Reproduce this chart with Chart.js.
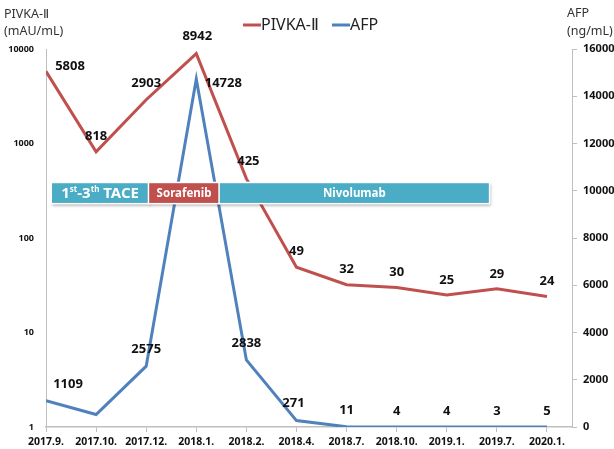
<!DOCTYPE html>
<html>
<head>
<meta charset="utf-8">
<script src="https://cdn.jsdelivr.net/npm/chart.js@4/dist/chart.umd.min.js"></script>
<style>
  html, body { margin: 0; padding: 0; background: #fff; }
  #wrap { width: 614px; height: 449px; }
</style>
</head>
<body>
<div id="wrap"><canvas id="c" width="614" height="449"></canvas></div>
<script>
// data
const dates = ['2017.9.', '2017.10.', '2017.12.', '2018.1.', '2018.2.', '2018.4.', '2018.7.', '2018.10.', '2019.1.', '2019.7.', '2020.1.'];
const pivka = [5808, 818, 2903, 8942, 425, 49, 32, 30, 25, 29, 24];
const afp = [1109, 530, 2575, 14728, 2838, 271, 11, 4, 4, 3, 5];
// which points carry a value label (AFP at 2017.10. has none)
const afpShown = [true, false, true, true, true, true, true, true, true, true, true];

// treatment periods (x in category units)
const therapies = [
    { name: 'TACE', from: 0.12, to: 2.04, color: '#4bacc6' },
    { name: 'Sorafenib', from: 2.06, to: 3.45, color: '#c0504d' },
    { name: 'Nivolumab', from: 3.47, to: 8.84, color: '#4bacc6' },
];

// label offsets relative to the point (px)
const pivkaOff = [[24, -5], [0, -15], [0, -16], [1, -17], [2, -17], [0, -16], [0, -15], [0, -15], [0, -15], [0, -15], [0, -15]];
const afpOff = [[22, -17], [0, 0], [0, -17], [27, 4], [0, -17], [-3, -17], [0, -16], [0, -16], [0, -16], [0, -16], [0, -16]];

const RED = '#c0504d';
const BLUE = '#4f81bd';
const AXIS = '#bfbfbf';
const FONT = "'Noto Sans', 'DejaVu Sans', sans-serif";

function toXY(arr) {
    let out = [];
    for (let i = 0; i < arr.length; i++) {
        out.push({ x: i, y: arr[i] });
    }
    return out;
}

const extras = {
    id: 'extras',
    afterDatasetsDraw(chart) {
        const ctx = chart.ctx;
        const xs = chart.scales.x;
        const ys = chart.scales.y;

        // treatment bar
        const top = ys.getPixelForValue(380);
        const bot = ys.getPixelForValue(235);
        therapies.forEach(t => {
            const l = xs.getPixelForValue(t.from);
            const r = xs.getPixelForValue(t.to);
            ctx.save();
            ctx.shadowColor = 'rgba(0,0,0,0.35)';
            ctx.shadowBlur = 3;
            ctx.shadowOffsetX = 1;
            ctx.shadowOffsetY = 2;
            ctx.fillStyle = '#ffffff';
            ctx.fillRect(l - 1.5, top - 1.5, r - l + 3, bot - top + 3);
            ctx.restore();
            ctx.fillStyle = t.color;
            ctx.fillRect(l, top, r - l, bot - top);

            ctx.fillStyle = '#ffffff';
            ctx.textBaseline = 'middle';
            const cx = (l + r) / 2;
            const cy = (top + bot) / 2 + 0.5;
            if (t.name === 'TACE') {
                const parts = [
                    ['1', `bold 15px ${FONT}`, 0],
                    ['st', `bold 8px ${FONT}`, -4],
                    ['-3', `bold 15px ${FONT}`, 0],
                    ['th', `bold 8px ${FONT}`, -4],
                    [' TACE', `bold 15px ${FONT}`, 0],
                ];
                let w = 0;
                parts.forEach(p => { ctx.font = p[1]; w += ctx.measureText(p[0]).width; });
                let px = cx - w / 2;
                ctx.textAlign = 'left';
                parts.forEach(p => {
                    ctx.font = p[1];
                    ctx.fillText(p[0], px, cy + p[2]);
                    px += ctx.measureText(p[0]).width;
                });
            } else {
                ctx.font = `bold 11.5px ${FONT}`;
                ctx.textAlign = 'center';
                ctx.fillText(t.name, cx, cy);
            }
        });

        // value labels
        ctx.fillStyle = '#111';
        ctx.font = `bold 13px ${FONT}`;
        ctx.textAlign = 'center';
        ctx.textBaseline = 'middle';
        const m0 = chart.getDatasetMeta(0).data;
        const m1 = chart.getDatasetMeta(1).data;
        for (let i = 0; i < pivka.length; i++) {
            ctx.fillText(String(pivka[i]), m0[i].x + pivkaOff[i][0], m0[i].y + pivkaOff[i][1]);
        }
        for (let i = 0; i < afp.length; i++) {
            if (!afpShown[i]) continue;
            ctx.fillText(String(afp[i]), m1[i].x + afpOff[i][0], m1[i].y + afpOff[i][1]);
        }

        // axis titles
        ctx.fillStyle = '#333';
        ctx.font = `12.5px ${FONT}`;
        ctx.textAlign = 'left';
        ctx.fillText('PIVKA-Ⅱ', 4, 14);
        ctx.fillText('(mAU/mL)', 4, 31);
        ctx.fillText('AFP', 567, 13);
        ctx.fillText('(ng/mL)', 567, 31);

        // legend
        const items = [['PIVKA-Ⅱ', RED, 243], ['AFP', BLUE, 332]];
        ctx.font = `16px ${FONT}`;
        items.forEach(it => {
            ctx.strokeStyle = it[1];
            ctx.lineWidth = 3;
            ctx.beginPath();
            ctx.moveTo(it[2], 25);
            ctx.lineTo(it[2] + 18, 25);
            ctx.stroke();
            ctx.fillStyle = '#222';
            ctx.fillText(it[0], it[2] + 18, 25);
        });
    }
};

new Chart(document.getElementById('c'), {
    type: 'line',
    data: {
        datasets: [
            {
                label: 'PIVKA-Ⅱ',
                data: toXY(pivka),
                borderColor: RED,
                backgroundColor: RED,
                borderWidth: 3,
                pointRadius: 0,
                yAxisID: 'y',
            },
            {
                label: 'AFP',
                data: toXY(afp),
                borderColor: BLUE,
                backgroundColor: BLUE,
                borderWidth: 3,
                pointRadius: 0,
                yAxisID: 'y1',
            },
        ],
    },
    options: {
        responsive: false,
        animation: false,
        layout: { padding: { top: 49, left: 0, right: 0, bottom: 0 } },
        plugins: {
            legend: { display: false },
            tooltip: { enabled: false },
        },
        scales: {
            x: {
                type: 'linear',
                min: 0,
                max: 10.5,
                afterFit: s => { s.height = 22; },
                border: { color: AXIS, width: 1.5 },
                grid: { display: true, drawOnChartArea: false, tickLength: 5, color: AXIS },
                ticks: {
                    stepSize: 1,
                    includeBounds: false,
                    autoSkip: false,
                    maxRotation: 0,
                    padding: 4,
                    color: '#111',
                    font: { family: FONT, size: 10.5, weight: 'bold' },
                    callback: v => dates[v] || '',
                },
            },
            y: {
                type: 'logarithmic',
                position: 'left',
                min: 1,
                max: 10000,
                afterFit: s => { s.width = 46; },
                border: { color: AXIS, width: 1 },
                grid: { display: false },
                ticks: {
                    autoSkip: false,
                    padding: 4,
                    color: '#111',
                    font: { family: FONT, size: 9, weight: 'bold' },
                    callback: v => {
                        const l = Math.log10(v);
                        return Math.abs(l - Math.round(l)) < 1e-9 ? String(v) : '';
                    },
                },
            },
            y1: {
                type: 'linear',
                position: 'right',
                min: 0,
                max: 16000,
                afterFit: s => { s.width = 42; },
                border: { color: AXIS, width: 1 },
                grid: { display: true, drawOnChartArea: false, tickLength: 5, color: AXIS },
                ticks: {
                    stepSize: 2000,
                    padding: 6,
                    color: '#111',
                    font: { family: FONT, size: 11, weight: 'bold' },
                    callback: v => String(v),
                },
            },
        },
    },
    plugins: [extras],
});
</script>
</body>
</html>
